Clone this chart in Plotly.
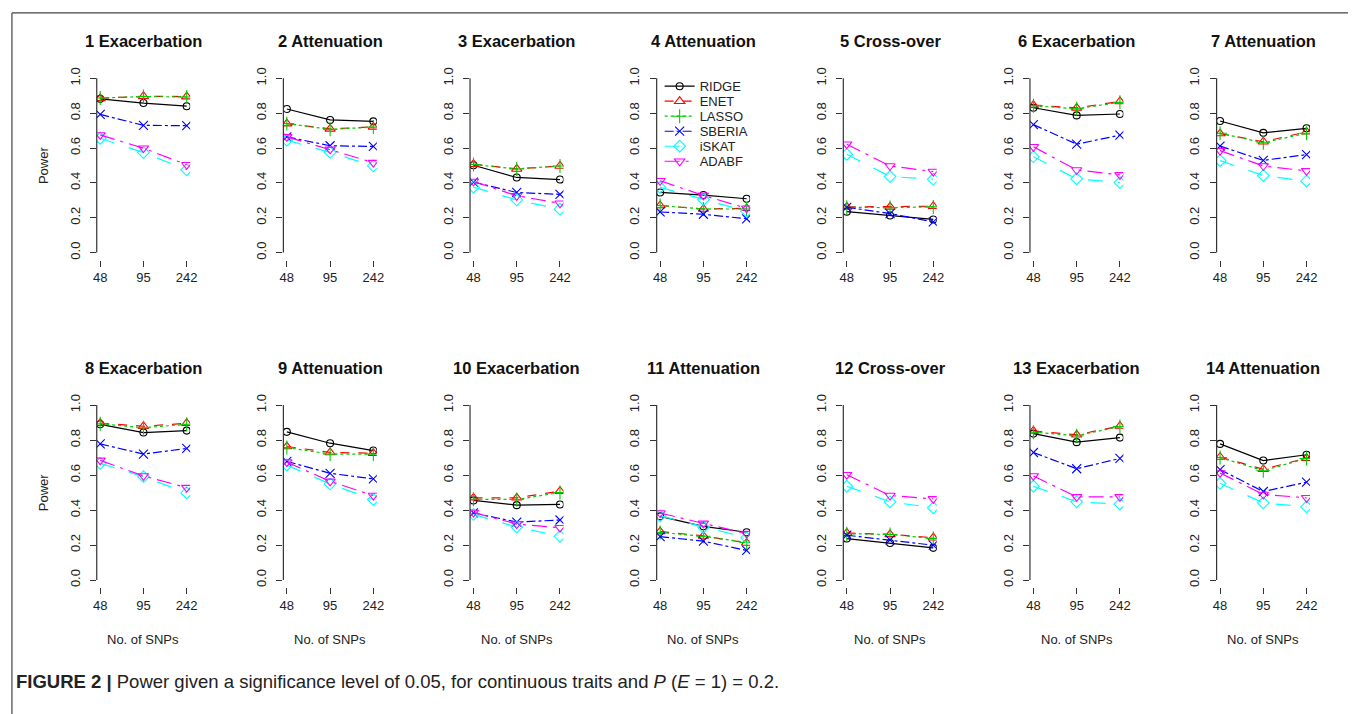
import plotly.graph_objects as go

# ---------------- data ----------------
SNP_COUNTS = ["48", "95", "242"]
PANEL_TITLES = [
    "1 Exacerbation", "2 Attenuation", "3 Exacerbation", "4 Attenuation",
    "5 Cross-over", "6 Exacerbation", "7 Attenuation",
    "8 Exacerbation", "9 Attenuation", "10 Exacerbation", "11 Attenuation",
    "12 Cross-over", "13 Exacerbation", "14 Attenuation",
]
METHODS = ["RIDGE", "ENET", "LASSO", "SBERIA", "iSKAT", "ADABF"]

RIDGE = [
    [0.882, 0.858, 0.840], [0.824, 0.761, 0.753], [0.501, 0.431, 0.419],
    [0.345, 0.330, 0.309], [0.235, 0.213, 0.190], [0.831, 0.787, 0.795],
    [0.755, 0.687, 0.713], [0.890, 0.843, 0.854], [0.847, 0.782, 0.740],
    [0.455, 0.428, 0.432], [0.364, 0.307, 0.273], [0.237, 0.212, 0.184],
    [0.837, 0.788, 0.814], [0.778, 0.683, 0.716],
]
ENET = [
    [0.885, 0.897, 0.895], [0.740, 0.710, 0.721], [0.507, 0.480, 0.497],
    [0.270, 0.250, 0.254], [0.262, 0.262, 0.266], [0.846, 0.830, 0.867],
    [0.683, 0.636, 0.693], [0.897, 0.879, 0.896], [0.763, 0.729, 0.725],
    [0.470, 0.470, 0.508], [0.277, 0.252, 0.212], [0.269, 0.261, 0.242],
    [0.852, 0.830, 0.880], [0.703, 0.633, 0.697],
]
LASSO = [
    [0.887, 0.895, 0.893], [0.740, 0.707, 0.720], [0.505, 0.480, 0.497],
    [0.270, 0.250, 0.250], [0.260, 0.258, 0.262], [0.843, 0.825, 0.862],
    [0.685, 0.630, 0.685], [0.893, 0.870, 0.890], [0.757, 0.720, 0.720],
    [0.462, 0.460, 0.500], [0.272, 0.250, 0.215], [0.265, 0.260, 0.238],
    [0.845, 0.825, 0.877], [0.700, 0.625, 0.695],
]
SBERIA = [
    [0.793, 0.730, 0.728], [0.664, 0.613, 0.609], [0.404, 0.345, 0.334],
    [0.233, 0.220, 0.194], [0.260, 0.224, 0.176], [0.734, 0.622, 0.674],
    [0.611, 0.529, 0.562], [0.778, 0.720, 0.752], [0.678, 0.610, 0.578],
    [0.384, 0.331, 0.343], [0.248, 0.222, 0.169], [0.256, 0.229, 0.199],
    [0.729, 0.636, 0.695], [0.631, 0.506, 0.559],
]
ISKAT = [
    [0.656, 0.574, 0.475], [0.645, 0.575, 0.497], [0.376, 0.302, 0.249],
    [0.374, 0.304, 0.237], [0.564, 0.436, 0.421], [0.550, 0.423, 0.402],
    [0.528, 0.442, 0.410], [0.667, 0.591, 0.498], [0.657, 0.549, 0.460],
    [0.375, 0.303, 0.250], [0.367, 0.303, 0.242], [0.536, 0.447, 0.413],
    [0.536, 0.447, 0.434], [0.553, 0.441, 0.418],
]
ADABF = [
    [0.675, 0.599, 0.504], [0.664, 0.592, 0.516], [0.408, 0.326, 0.283],
    [0.412, 0.328, 0.254], [0.622, 0.497, 0.465], [0.607, 0.474, 0.446],
    [0.585, 0.497, 0.469], [0.684, 0.595, 0.528], [0.674, 0.564, 0.483],
    [0.386, 0.320, 0.299], [0.383, 0.324, 0.265], [0.602, 0.483, 0.464],
    [0.595, 0.475, 0.475], [0.612, 0.489, 0.470],
]
SERIES = [RIDGE, ENET, LASSO, SBERIA, ISKAT, ADABF]
Y_TICKS = [0.0, 0.2, 0.4, 0.6, 0.8, 1.0]

# ---------------- styles ----------------
COLORS = ["#000000", "#FF0000", "#00CD00", "#0000FF", "#00FFFF", "#FF00FF"]
DASHES = ["solid", "dash", "dot", "dashdot", "longdash", "longdashdot"]
SYMBOLS = ["circle-open", "triangle-up-open", "cross-thin-open",
           "x-thin-open", "diamond-open", "triangle-down-open"]
SIZES = [7, 9, 10, 9, 9, 9]

W, H = 1355, 714
FONT = "Liberation Sans, Arial, Helvetica, sans-serif"
AXC = "#333333"

COL_STEP = 188.17
LEFT0 = 93.5
PW = 94.2
ROWS = [(67.7, 257.0), (396.3, 586.3)]
TITLE_Y = [37, 366]
LEGEND_TOP = 82.7
LEGEND_STEP = 15.1

fig = go.Figure()
shapes = []
annotations = []
legends = {}

for m in range(6):
    key = "legend" if m == 0 else f"legend{m + 1}"
    legends[key] = dict(
        x=(LEFT0 + COL_STEP * 3 + 3) / W,
        y=1 - (LEGEND_TOP + LEGEND_STEP * m) / H,
        xanchor="left", yanchor="middle",
        bgcolor="rgba(0,0,0,0)", borderwidth=0,
        font=dict(family=FONT, size=13, color="#222"),
        itemwidth=30,
    )

for p in range(14):
    r, c = divmod(p, 7)
    idx = p + 1
    sfx = "" if idx == 1 else str(idx)
    left = LEFT0 + COL_STEP * c
    right = left + PW
    top, bottom = ROWS[r]

    for m in range(6):
        fig.add_trace(go.Scatter(
            x=SNP_COUNTS, y=SERIES[m][p],
            mode="lines+markers",
            name=METHODS[m], legendgroup=METHODS[m],
            legend="legend" if m == 0 else f"legend{m + 1}",
            showlegend=(p == 0),
            line=dict(color=COLORS[m], dash=DASHES[m], width=1.2),
            marker=dict(symbol=SYMBOLS[m], size=SIZES[m], color=COLORS[m],
                        line=dict(width=1.1, color=COLORS[m])),
            xaxis="x" + sfx, yaxis="y" + sfx,
        ))

    fig.layout["xaxis" + sfx] = dict(
        domain=[left / W, right / W], anchor="y" + sfx,
        type="category", categoryorder="array", categoryarray=SNP_COUNTS,
        range=[-0.08, 2.08], showline=False, showgrid=False, zeroline=False,
        ticks="outside", ticklen=6, tickwidth=1, tickcolor=AXC,
        tickfont=dict(family=FONT, size=13, color="#222"),
        fixedrange=True,
    )
    fig.layout["yaxis" + sfx] = dict(
        domain=[1 - bottom / H, 1 - top / H], anchor="x" + sfx,
        range=[-0.04, 1.04], showline=False, showgrid=False, zeroline=False,
        tickvals=Y_TICKS, ticktext=[f"{v:.1f}" for v in Y_TICKS],
        tickangle=-90, ticklabelstandoff=5,
        ticks="outside", ticklen=6, tickwidth=1, tickcolor=AXC,
        tickfont=dict(family=FONT, size=13, color="#222"),
        fixedrange=True,
    )
    # R-style axis lines spanning first to last tick
    shapes.append(dict(type="line", xref="x" + sfx, yref=f"y{sfx} domain",
                       x0=SNP_COUNTS[0], x1=SNP_COUNTS[-1], y0=0, y1=0,
                       line=dict(color=AXC, width=1.2)))
    shapes.append(dict(type="line", xref=f"x{sfx} domain", yref="y" + sfx,
                       x0=0, x1=0, y0=Y_TICKS[0], y1=Y_TICKS[-1],
                       line=dict(color=AXC, width=1.2)))

    annotations.append(dict(
        text=f"<b>{PANEL_TITLES[p]}</b>", xref="paper", yref="paper",
        x=(left + right) / 2 / W, y=1 - TITLE_Y[r] / H,
        xanchor="center", yanchor="middle", showarrow=False,
        font=dict(family=FONT, size=16.5, color="#111")))
    if r == 1:
        annotations.append(dict(
            text="No. of SNPs", xref="paper", yref="paper",
            x=(left + right) / 2 / W, y=1 - 639 / H,
            xanchor="center", yanchor="middle", showarrow=False,
            font=dict(family=FONT, size=13, color="#222")))
    if c == 0:
        annotations.append(dict(
            text="Power", xref="paper", yref="paper",
            x=40 / W, y=1 - (top + bottom) / 2 / H, textangle=-90,
            xanchor="center", yanchor="middle", showarrow=False,
            font=dict(family=FONT, size=13, color="#222")))

# caption
annotations.append(dict(
    text="<b>FIGURE 2 |</b> Power given a significance level of 0.05, for continuous traits and "
         "<i>P</i> (<i>E</i> = 1) = 0.2.",
    xref="paper", yref="paper", x=10 / W, y=1 - 681 / H,
    xanchor="left", yanchor="middle", showarrow=False,
    font=dict(family="Liberation Sans Narrow, Arial Narrow, " + FONT, size=18.5, color="#222")))

# figure frame (left and top edges)
shapes.append(dict(type="line", xref="paper", yref="paper",
                   x0=8 / W, x1=8 / W, y0=0, y1=1 - 9 / H,
                   line=dict(color="#444", width=1.2)))
shapes.append(dict(type="line", xref="paper", yref="paper",
                   x0=8 / W, x1=1, y0=1 - 9 / H, y1=1 - 9 / H,
                   line=dict(color="#444", width=1.2)))

fig.update_layout(
    width=W, height=H, autosize=False,
    margin=dict(l=0, r=0, t=0, b=0),
    paper_bgcolor="white", plot_bgcolor="white",
    shapes=shapes, annotations=annotations,
    font=dict(family=FONT),
    **legends,
)

fig.write_html(
    "out.html", config={"displayModeBar": False, "staticPlot": True},
    post_script=(
        "document.documentElement.style.margin='0px';"
        "document.documentElement.style.overflow='hidden';"
        "document.body.style.margin='0px';document.body.style.padding='0px';"
        "document.body.style.overflow='hidden';"
    ),
)
